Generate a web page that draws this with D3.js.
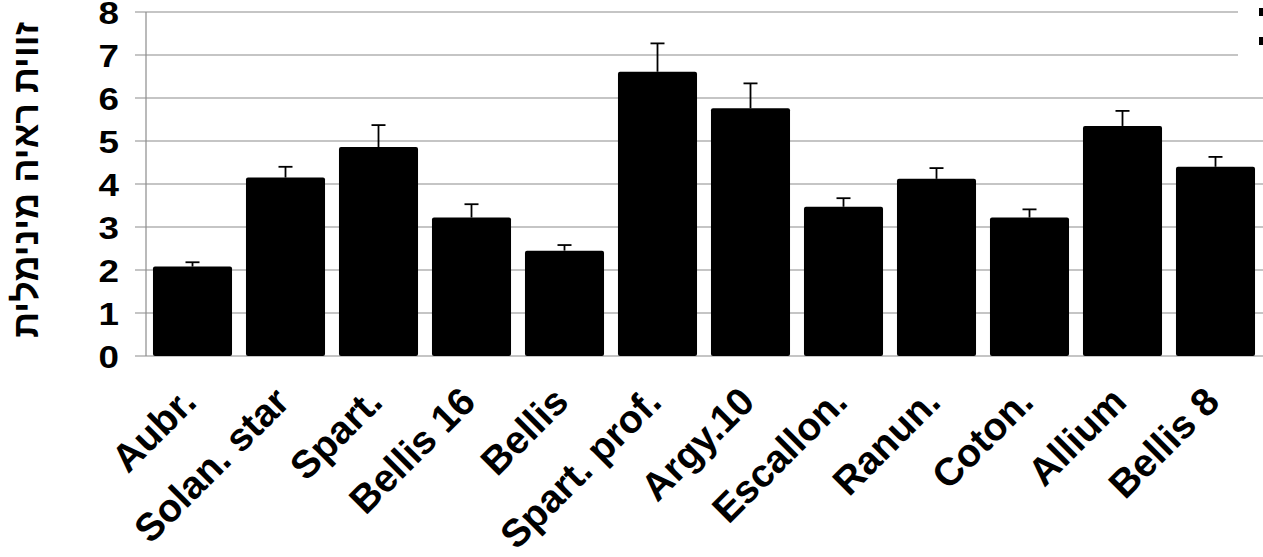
<!DOCTYPE html>
<html>
<head>
<meta charset="utf-8">
<script src="https://cdn.jsdelivr.net/npm/d3@7"></script>
<style>
  body { margin: 0; background: #fff; }
  svg text { font-family: "Liberation Sans", Arial, sans-serif; font-weight: bold; fill: #000; }
</style>
</head>
<body>
<svg></svg>
<script>
const width = 1263;
const height = 557;

const categories = ["Aubr.", "Solan. star", "Spart.", "Bellis 16", "Bellis", "Spart. prof.",
  "Argy.10", "Escallon.", "Ranun.", "Coton.", "Allium", "Bellis 8"];
const means = [2.08, 4.15, 4.86, 3.22, 2.45, 6.61, 5.76, 3.47, 4.12, 3.22, 5.35, 4.40];
const errors = [0.10, 0.25, 0.51, 0.31, 0.13, 0.66, 0.58, 0.20, 0.25, 0.19, 0.35, 0.23];
const yTicks = [0, 1, 2, 3, 4, 5, 6, 7, 8];
const yTitle = "זווית ראיה מינימלית";

const margin = { top: 12, right: 1, bottom: 201, left: 146 };

const svg = d3.select("svg")
  .attr("width", width)
  .attr("height", height);

const x = d3.scaleBand()
  .domain(categories)
  .range([margin.left, width - margin.right])
  .paddingInner(0.15)
  .paddingOuter(0.075);

const y = d3.scaleLinear()
  .domain([0, 8])
  .range([height - margin.bottom, margin.top]);

// gridlines
svg.append("g")
  .selectAll("line")
  .data(yTicks)
  .join("line")
  .attr("x1", margin.left - 11)
  .attr("x2", width)
  .attr("y1", function(d) { return y(d); })
  .attr("y2", function(d) { return y(d); })
  .attr("stroke", "#8c8c8c")
  .attr("stroke-width", 1.2);

// y axis line
svg.append("line")
  .attr("x1", margin.left)
  .attr("x2", margin.left)
  .attr("y1", y(8))
  .attr("y2", y(0))
  .attr("stroke", "#8c8c8c")
  .attr("stroke-width", 1.2);

// tick labels (glyphs a bit wide in the original)
svg.append("g")
  .selectAll("text")
  .data(yTicks)
  .join("text")
  .attr("transform", function(d) {
    return `translate(${margin.left - 27}, ${y(d)}) scale(1.15, 1)`;
  })
  .attr("dy", "0.36em")
  .attr("text-anchor", "end")
  .attr("font-size", 32)
  .text(function(d) { return d; });

// bars
const rows = categories.map(function(c, i) {
  return { name: c, value: means[i], err: errors[i] };
});

svg.append("g")
  .selectAll("rect")
  .data(rows)
  .join("rect")
  .attr("x", function(d) { return x(d.name); })
  .attr("y", function(d) { return y(d.value); })
  .attr("width", x.bandwidth())
  .attr("height", function(d) { return y(0) - y(d.value); })
  .attr("rx", 2)
  .attr("fill", "#000");

// error bars (upper only)
const errG = svg.append("g")
  .attr("stroke", "#000")
  .attr("stroke-width", 1.8);

errG.selectAll("line.stem")
  .data(rows)
  .join("line")
  .attr("class", "stem")
  .attr("x1", function(d) { return x(d.name) + x.bandwidth() / 2; })
  .attr("x2", function(d) { return x(d.name) + x.bandwidth() / 2; })
  .attr("y1", function(d) { return y(d.value); })
  .attr("y2", function(d) { return y(d.value + d.err); });

errG.selectAll("line.cap")
  .data(rows)
  .join("line")
  .attr("class", "cap")
  .attr("x1", function(d) { return x(d.name) + x.bandwidth() / 2 - 7; })
  .attr("x2", function(d) { return x(d.name) + x.bandwidth() / 2 + 7; })
  .attr("y1", function(d) { return y(d.value + d.err); })
  .attr("y2", function(d) { return y(d.value + d.err); });

// category labels
svg.append("g")
  .selectAll("text")
  .data(categories)
  .join("text")
  .attr("text-anchor", "end")
  .attr("font-size", 39)
  .attr("transform", function(d) {
    const cx = x(d) + x.bandwidth() / 2 + 6;
    return `translate(${cx}, ${y(0) + 48}) rotate(-45)`;
  })
  .text(function(d) { return d; });

// y title
svg.append("text")
  .attr("transform", `translate(38, ${(y(8) + y(0)) / 2 - 4}) rotate(-90)`)
  .attr("text-anchor", "middle")
  .attr("font-size", 36)
  .attr("direction", "rtl")
  .text(yTitle);

// legend (cut off at right edge)
const legend = svg.append("g");
legend.append("rect")
  .attr("x", 1238)
  .attr("y", 0)
  .attr("width", 40)
  .attr("height", 70)
  .attr("fill", "#fff");
legend.selectAll("rect.key")
  .data([0, 1])
  .join("rect")
  .attr("class", "key")
  .attr("x", 1259)
  .attr("y", function(d) { return 8 + d * 29; })
  .attr("width", 10)
  .attr("height", 8)
  .attr("fill", "#000");
</script>
</body>
</html>
